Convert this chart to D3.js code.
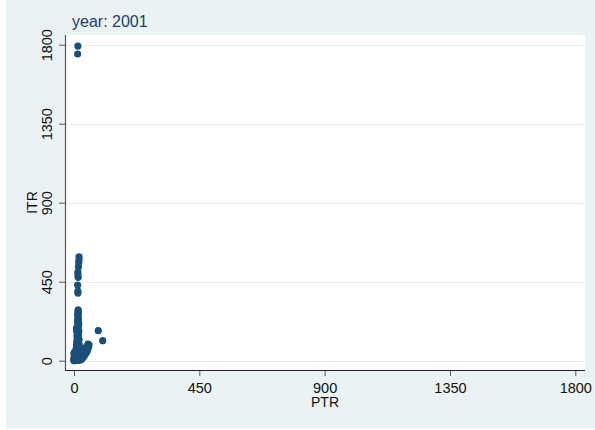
<!DOCTYPE html>
<html>
<head>
<meta charset="utf-8">
<script src="https://cdn.jsdelivr.net/npm/d3@7"></script>
<style>
  html, body { margin: 0; padding: 0; background: #ffffff; }
  svg { display: block; font-family: "Liberation Sans", Arial, sans-serif; }
</style>
</head>
<body>
<svg id="chart" width="595" height="430"></svg>
<script>
// Panel caption and axis titles
const panelTitle = "year: 2001";
const xTitle = "PTR";
const yTitle = "ITR";

// Tick values shared by both axes
const xTicks = [0, 450, 900, 1350, 1800];
const yTicks = [0, 450, 900, 1350, 1800];

// Observations: PTR (x) and ITR (y)
const ptr = [
  14, 13,
  18, 18, 17, 16, 14, 14, 15, 13, 14, 14,
  87, 103,
  // main column
  15, 14, 16, 13, 15, 14, 16, 13, 15, 14, 16, 12, 15, 13, 17, 14, 12, 16, 14, 11,
  15, 13, 17, 10, 14, 12, 16, 9, 13, 18, 11, 15, 8, 13, 19, 10, 14, 6, 12, 17,
  8, 4, 11, 15, 6, 2, 9, 13, 4, 1, 7, 11, 3, 0, 5, 9, 2, 14, 18, 20, 22, 19, 16, 12,
  9, 9, 17, 19, 20, 18,
  // arm spreading to the right
  18, 24, 30, 36, 42, 48, 52, 54, 20, 25, 30, 36, 42, 48, 50,
  22, 28, 34, 40, 46, 52, 44, 38, 32, 26, 24, 30, 36, 40, 46,
  // lower-left corner
  0, 2, 0, 4, 6, 3, 1, 5, 8, 10, 7, 2, 1, 0, 3
];
const itr = [
  1792, 1747,
  592, 575, 560, 535, 505, 490, 475, 431, 397, 385,
  171, 114,
  // main column
  290, 280, 270, 262, 250, 240, 232, 225, 215, 205, 198, 190, 182, 175, 168, 160, 152, 148, 140, 135,
  130, 124, 118, 112, 108, 102, 96, 92, 88, 85, 80, 76, 72, 68, 64, 60, 56, 52, 48, 45,
  42, 38, 35, 32, 28, 25, 22, 19, 16, 12, 10, 8, 6, 3, 2, 1, 0, 4, 10, 30, 50, 70, 110, 145,
  185, 170, 210, 90, 40, 120,
  // arm spreading to the right
  2, 10, 20, 32, 45, 60, 75, 90, 25, 35, 45, 58, 70, 82, 95,
  15, 28, 40, 55, 68, 85, 78, 65, 50, 40, 5, 12, 25, 35, 50,
  // lower-left corner
  0, 5, 10, 2, 8, 15, 20, 25, 4, 12, 30, 35, 45, 40, 50
];

const points = ptr.map((p, i) => ({ x: p, y: itr[i] }));

const svg = d3.select("#chart");
const W = 595, H = 430;

// Plot region bounds
const plot = { left: 65, right: 585, top: 35, bottom: 370 };

const x = d3.scaleLinear().domain([0, 1800]).range([74, 575.3]);
const y = d3.scaleLinear().domain([0, 1800]).range([360.7, 44.7]);

// Graph region background
svg.append("rect")
  .attr("x", 6).attr("y", 0)
  .attr("width", W - 6).attr("height", H - 1)
  .attr("fill", "#eaf2f3");

// Plot region
svg.append("rect")
  .attr("x", plot.left).attr("y", plot.top)
  .attr("width", plot.right - plot.left).attr("height", plot.bottom - plot.top)
  .attr("fill", "#ffffff");

// Horizontal grid lines
svg.append("g").selectAll("line")
  .data(yTicks)
  .join("line")
  .attr("x1", plot.left).attr("x2", plot.right)
  .attr("y1", d => Math.round(y(d)) + 0.5).attr("y2", d => Math.round(y(d)) + 0.5)
  .attr("stroke", "#e4edf0")
  .attr("stroke-width", 1.2);

// Y axis
const yAxis = svg.append("g")
  .attr("transform", `translate(${plot.left},0)`)
  .call(d3.axisLeft(y).tickValues(yTicks).tickSize(6).tickFormat(d3.format("d")));
yAxis.select(".domain").remove();
yAxis.selectAll(".tick line").attr("stroke", "#555");
yAxis.selectAll(".tick text")
  .attr("x", null).attr("dy", null)
  .attr("transform", "translate(-13,0) rotate(-90)")
  .attr("text-anchor", "middle")
  .attr("font-size", 14.5)
  .attr("font-family", "Liberation Sans, Arial, sans-serif")
  .attr("fill", "#111");

// X axis
const xAxis = svg.append("g")
  .attr("transform", `translate(0,${plot.bottom})`)
  .call(d3.axisBottom(x).tickValues(xTicks).tickSize(6).tickFormat(d3.format("d")));
xAxis.select(".domain").remove();
xAxis.selectAll(".tick line").attr("stroke", "#555");
xAxis.selectAll(".tick text")
  .attr("y", 22.5).attr("dy", null)
  .attr("font-size", 14.5)
  .attr("font-family", "Liberation Sans, Arial, sans-serif")
  .attr("fill", "#111");

// Axis lines
svg.append("line")
  .attr("x1", plot.left + 0.5).attr("x2", plot.left + 0.5)
  .attr("y1", plot.top).attr("y2", plot.bottom + 0.5)
  .attr("stroke", "#555").attr("stroke-width", 1.2);
svg.append("line")
  .attr("x1", plot.left).attr("x2", plot.right)
  .attr("y1", plot.bottom + 0.5).attr("y2", plot.bottom + 0.5)
  .attr("stroke", "#222").attr("stroke-width", 1.2);

// Markers
svg.append("g").selectAll("circle")
  .data(points)
  .join("circle")
  .attr("cx", d => x(d.x))
  .attr("cy", d => y(d.y))
  .attr("r", 3.6)
  .attr("fill", "#1a4f78");

// Axis titles
svg.append("text")
  .attr("x", (plot.left + plot.right) / 2)
  .attr("y", 407)
  .attr("text-anchor", "middle")
  .attr("font-size", 14)
  .attr("fill", "#111")
  .text(xTitle);

svg.append("text")
  .attr("transform", `translate(37,${(plot.top + plot.bottom) / 2}) rotate(-90)`)
  .attr("text-anchor", "middle")
  .attr("font-size", 14)
  .attr("fill", "#111")
  .text(yTitle);

// Panel caption
svg.append("text")
  .attr("x", 72)
  .attr("y", 26.5)
  .attr("font-size", 16)
  .attr("fill", "#1e3d6b")
  .text(panelTitle);
</script>
</body>
</html>
